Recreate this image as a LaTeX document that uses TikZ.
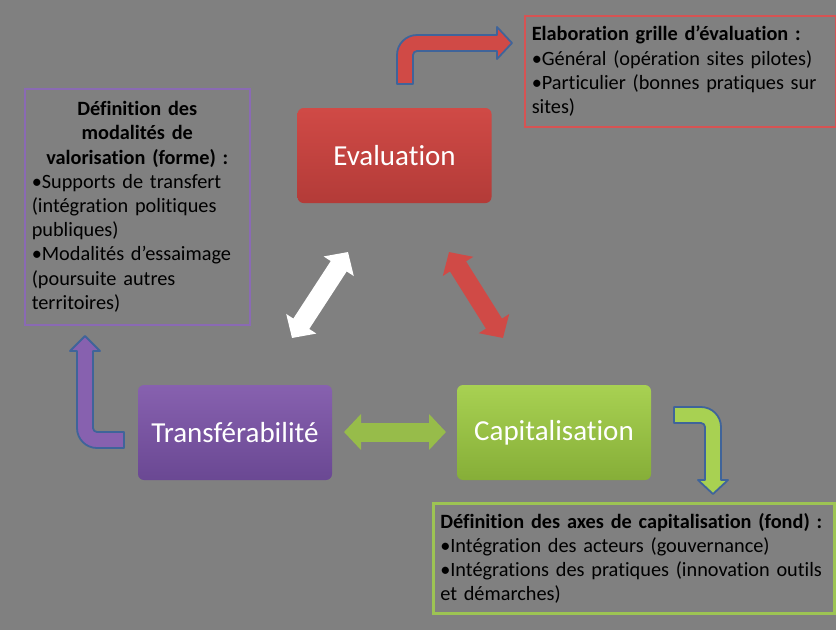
\documentclass[tikz,border=0pt]{standalone}
\usepackage{fontspec}
\setmainfont{Carlito}[Ligatures=NoCommon]
\usetikzlibrary{arrows.meta}

\definecolor{bgGray}{HTML}{808080}
\definecolor{evalRed}{HTML}{D04A46}
\definecolor{evalRedDark}{HTML}{B33B38}
\definecolor{transPurple}{HTML}{8761AF}
\definecolor{transPurpleDark}{HTML}{6A4893}
\definecolor{capGreen}{HTML}{A8D152}
\definecolor{capGreenDark}{HTML}{86AE38}
\definecolor{arrowBlue}{HTML}{3F649A}
\definecolor{boxRed}{HTML}{D65353}
\definecolor{boxPurple}{HTML}{8A6AB4}
\definecolor{boxGreen}{HTML}{9DC453}

\tikzset{
  stage/.style={rounded corners=6pt, minimum width=194pt, minimum height=95pt,
    text=white, font=\fontsize{29}{34}\selectfont},
  infobox/.style={draw, line width=1.5pt, anchor=north west, inner sep=7pt,
    align=left, font=\fontsize{20.3}{24.2}\selectfont},
  bentarrow/.style={draw=arrowBlue, line width=1.8pt, line join=round},
  linkarrow/.style={line width=19pt,
    {Triangle[width=35pt,length=17pt]}-{Triangle[width=35pt,length=17pt]}}
}

\begin{document}
\begin{tikzpicture}[x=1pt, y=-1pt]

  \fill[bgGray] (0,0) rectangle (836,630);
  \useasboundingbox (0,0) rectangle (836,630);

  \node[stage, top color=evalRed, bottom color=evalRedDark] (eval) at (394.5,155.5) {Evaluation};
  \node[stage, top color=transPurple, bottom color=transPurpleDark] (trans) at (235,432.5) {Transférabilité};
  \node[stage, top color=capGreen, bottom color=capGreenDark] (capit) at (554,432.5) {Capitalisation};

  \node[infobox, draw=boxRed, text width=297pt, minimum height=111pt] (grille) at (524,15)
    {\textbf{Elaboration grille d’évaluation :}\\
     •Général (opération sites pilotes)\\
     •Particulier (bonnes pratiques sur\\
     sites)};
  \node[infobox, draw=boxPurple, text width=211pt, minimum height=236pt] (modal) at (24,88)
    {{\centering\bfseries Définition des\\ modalités de\\ valorisation (forme) :\par}
     •Supports de transfert\\
     (intégration politiques\\
     publiques)\\
     •Modalités d’essaimage\\
     (poursuite autres\\
     territoires)};
  \node[infobox, draw=boxGreen, line width=2.5pt, text width=387pt, minimum height=110pt] (axes) at (432,502)
    {\textbf{Définition des axes de capitalisation (fond) :}\\
     •Intégration des acteurs (gouvernance)\\
     •Intégrations des pratiques (innovation outils\\
     et démarches)};

  % double arrows between the stages
  \coordinate (te1) at (292,338);
  \coordinate (te2) at (348,252);
  \coordinate (ec1) at (449,252);
  \coordinate (ec2) at (503,338);
  \coordinate (tc1) at (344,432);
  \coordinate (tc2) at (446,432);

  \draw[linkarrow, white] (te1) -- (te2);
  \draw[linkarrow, evalRed] (ec1) -- (ec2);
  \draw[linkarrow, capGreen!90!black] (tc1) -- (tc2);

  % bent arrows towards the text boxes
  \filldraw[bentarrow, fill=evalRed] (397,84) -- (397,55) arc[start angle=180, end angle=270, radius=20]
    -- (497,35) -- (497,27) -- (512,43) -- (497,59) -- (497,51) -- (417,51)
    arc[start angle=270, end angle=180, radius=4] -- (413,84) -- cycle;
  \filldraw[bentarrow, fill=transPurple] (124,448) -- (97,448) arc[start angle=90, end angle=180, radius=20]
    -- (77,351) -- (70,351) -- (85,336) -- (100,351) -- (93,351) -- (93,428)
    arc[start angle=180, end angle=90, radius=4] -- (124,432) -- cycle;
  \filldraw[bentarrow, fill=capGreen] (674,407) -- (701,407) arc[start angle=270, end angle=360, radius=20]
    -- (721,480) -- (728,480) -- (713,494) -- (698,480) -- (705,480) -- (705,427)
    arc[start angle=0, end angle=-90, radius=4] -- (674,423) -- cycle;

\end{tikzpicture}
\end{document}
